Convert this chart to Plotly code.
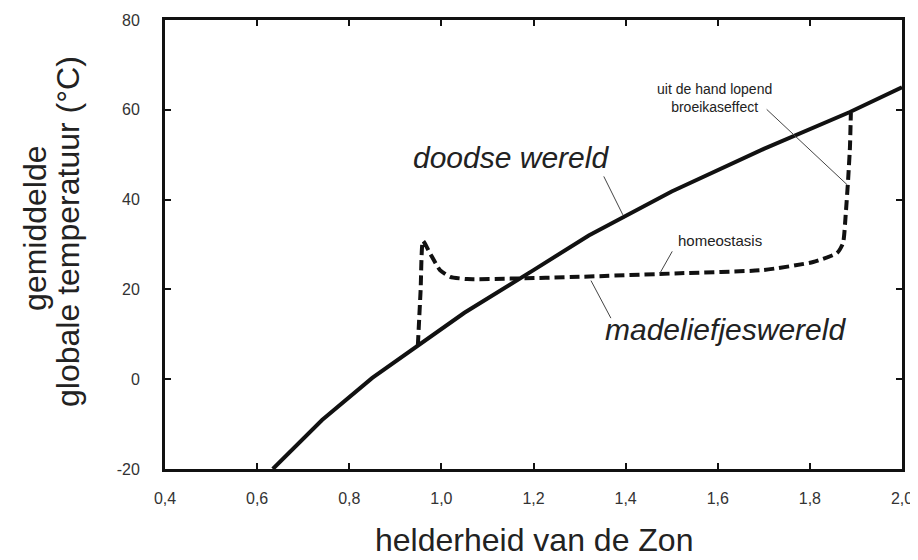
import plotly.graph_objects as go

# --- data ---
dead_x = [0.634, 0.741, 0.85, 0.95, 1.05, 1.2, 1.32, 1.5, 1.7, 1.887, 2.0]
dead_y = [-20, -9.1, 0.3, 7.5, 14.8, 24.3, 32.0, 41.8, 51.3, 59.5, 65.0]

daisy_x = [0.949, 0.955, 0.960, 0.975, 0.997, 1.019, 1.056, 1.15, 1.3, 1.518, 1.698, 1.807, 1.859, 1.872, 1.878, 1.883, 1.887, 1.889]
daisy_y = [7.6, 20.0, 30.8, 28.1, 24.3, 22.8, 22.3, 22.4, 22.8, 23.6, 24.3, 26.1, 28.1, 30.3, 37.0, 44.4, 51.7, 59.3]

x_ticks = [0.4, 0.6, 0.8, 1.0, 1.2, 1.4, 1.6, 1.8, 2.0]
x_tick_labels = ["0,4", "0,6", "0,8", "1,0", "1,2", "1,4", "1,6", "1,8", "2,0"]
y_ticks = [-20, 0, 20, 40, 60, 80]
y_tick_labels = ["-20", "0", "20", "40", "60", "80"]

FONT = "Liberation Sans, Arial, sans-serif"

fig = go.Figure()
fig.add_trace(go.Scatter(x=dead_x, y=dead_y, mode="lines",
                         line=dict(color="#111111", width=4), hoverinfo="skip"))
fig.add_trace(go.Scatter(x=daisy_x, y=daisy_y, mode="lines",
                         line=dict(color="#111111", width=4, dash="10px,5px", shape="spline", smoothing=0.5),
                         hoverinfo="skip"))

# labels with pointer lines (data coords)
labels = [
    dict(text="<i>doodse wereld</i>", x=1.151, y=49.3, size=30),
    dict(text="<i>madeliefjeswereld</i>", x=1.616, y=11.0, size=30),
    dict(text="homeostasis", x=1.605, y=31.0, size=15),
    dict(text="uit de hand lopend<br>broeikaseffect", x=1.594, y=62.6, size=14),
]
for l in labels:
    fig.add_annotation(x=l["x"], y=l["y"], xref="x", yref="y", text=l["text"],
                       showarrow=False, font=dict(family=FONT, size=l["size"], color="#222222"),
                       align="center", xanchor="center", yanchor="middle")

pointers = [
    ((1.351, 45.5), (1.394, 36.6)),
    ((1.323, 22.3), (1.368, 13.6)),
    ((1.503, 28.8), (1.475, 23.7)),
    ((1.703, 60.4), (1.881, 43.3)),
]
for (x0, y0), (x1, y1) in pointers:
    fig.add_annotation(x=x1, y=y1, ax=x0, ay=y0, xref="x", yref="y", axref="x", ayref="y",
                       text="", showarrow=True, arrowhead=0, arrowwidth=1, arrowcolor="#444444")

# axis titles
fig.add_annotation(x=0.5, y=-0.158, xref="paper", yref="paper", xanchor="center", yanchor="middle",
                   text="helderheid van de Zon", showarrow=False,
                   font=dict(family=FONT, size=32, color="#222222"))
y_title_lines = [("gemiddelde", -0.1764, 0.537), ("globale temperatuur (°C)", -0.1316, 0.528)]
for txt, px, py in y_title_lines:
    fig.add_annotation(x=px, y=py, xref="paper", yref="paper", textangle=-90,
                       xanchor="center", yanchor="middle", text=txt, showarrow=False,
                       font=dict(family=FONT, size=32, color="#222222"))

axis_common = dict(showgrid=False, zeroline=False, showline=True, linecolor="#111111",
                   linewidth=3, mirror="ticks", ticks="inside", ticklen=6, tickwidth=1.5,
                   automargin=False,
                   tickcolor="#111111", tickfont=dict(family=FONT, size=16, color="#333333"))

fig.update_xaxes(range=[0.4, 2.0], tickvals=x_ticks, ticktext=x_tick_labels,
                 ticklabelstandoff=13, **axis_common)
fig.update_yaxes(range=[-20, 80], tickvals=y_ticks, ticktext=y_tick_labels,
                 ticklabelstandoff=19, **axis_common)

fig.update_layout(width=910, height=552, margin=dict(l=157, r=16, t=12, b=91, autoexpand=False),
                  plot_bgcolor="white", paper_bgcolor="white", showlegend=False,
                  font=dict(family=FONT))

fig.write_html("out.html")
